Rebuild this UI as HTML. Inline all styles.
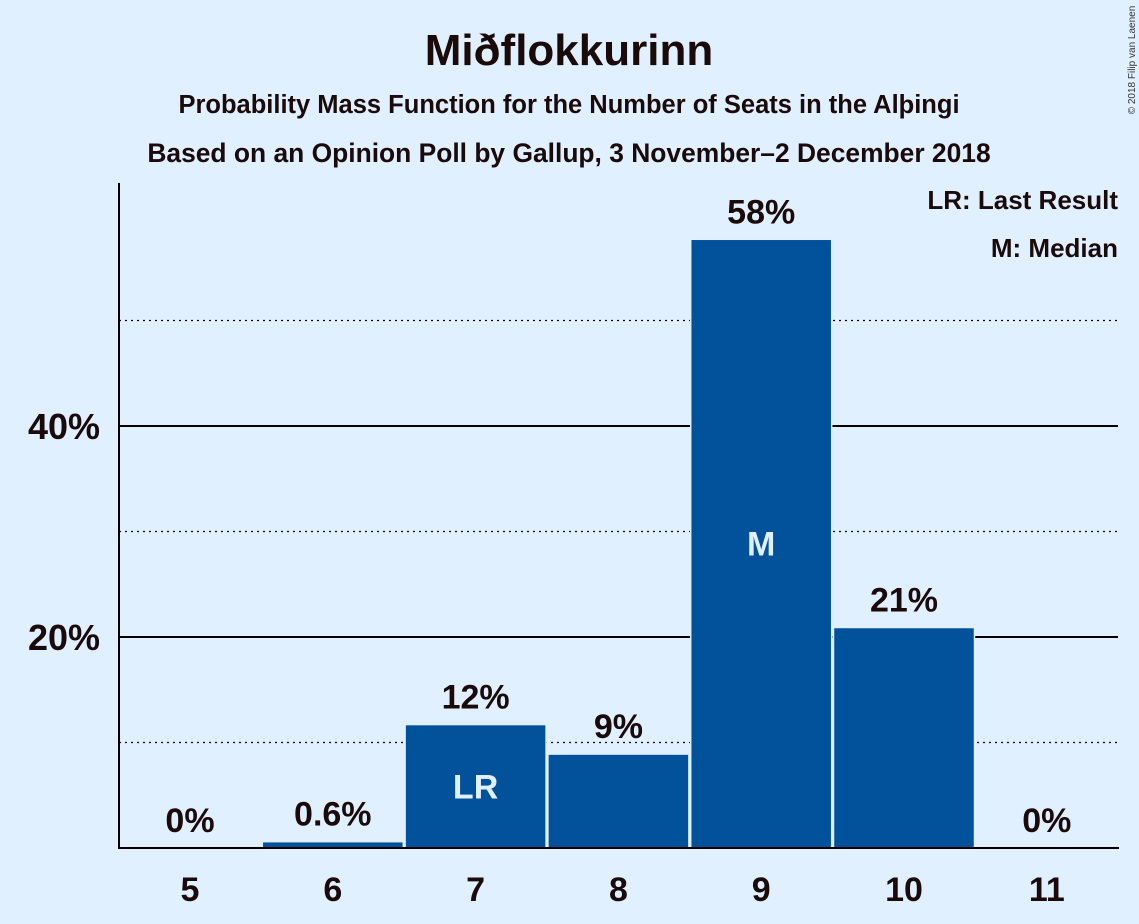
<!DOCTYPE html>
<html><head><meta charset="utf-8"><style>
html,body{margin:0;padding:0;background:#e1f0ff;}
svg{display:block;font-family:"Liberation Sans",sans-serif;}
</style></head><body>
<svg id="chart" width="1139" height="924" viewBox="0 0 1139 924">
<rect width="1139" height="924" fill="#e1f0ff"/>
<text x="569" y="65" text-anchor="middle" font-size="44" font-weight="bold" fill="#1a0a0a">Miðflokkurinn</text>
<text x="569" y="113" text-anchor="middle" font-size="25.5" font-weight="bold" fill="#1a0a0a">Probability Mass Function for the Number of Seats in the Alþingi</text>
<text x="569" y="162" text-anchor="middle" font-size="26.4" font-weight="bold" fill="#1a0a0a">Based on an Opinion Poll by Gallup, 3 November–2 December 2018</text>
<text transform="translate(1135,60) rotate(-90)" text-anchor="middle" font-size="10" fill="#333">© 2018 Filip van Laenen</text>
<g id="grid"></g>
<g id="bars"></g>
<g id="labels"></g>
<line x1="119" y1="183" x2="119" y2="849" stroke="#000" stroke-width="2"/>
<line x1="118" y1="848" x2="1119" y2="848" stroke="#000" stroke-width="2"/>
<text x="1118" y="209" text-anchor="end" font-size="26" font-weight="bold" fill="#1a0a0a">LR: Last Result</text>
<text x="1118" y="257" text-anchor="end" font-size="26" font-weight="bold" fill="#1a0a0a">M: Median</text>
</svg>
<script>
const categories = ["5","6","7","8","9","10","11"];
const values = [0, 0.6, 11.7, 8.9, 57.7, 20.9, 0];
const valueLabels = ["0%","0.6%","12%","9%","58%","21%","0%"];
const markers = ["","","LR","","M","",""];
const yTicks = [20, 40];
const yTickLabels = ["20%","40%"];
const dottedTicks = [10, 30, 50];

const NS = "http://www.w3.org/2000/svg";
const y = v => 848 - v * 10.55;
const xc = i => 190 + i * 142.8;
const bw = 141;
function mk(tag, attrs, parent, text){const e=document.createElementNS(NS,tag);for(const k in attrs)e.setAttribute(k,attrs[k]);if(text!==undefined)e.textContent=text;parent.appendChild(e);return e;}
const grid=document.getElementById('grid'), bars=document.getElementById('bars'), labels=document.getElementById('labels');
dottedTicks.forEach(t=>{
  const l=mk('line',{x1:119,x2:1118,y1:y(t),y2:y(t),stroke:'#000','stroke-width':1.2,'stroke-dasharray':'2,4'},grid);
  
  
});
yTicks.forEach((t,i)=>{
  const l=mk('line',{x1:119,x2:1118,y1:y(t),y2:y(t),stroke:'#000','stroke-width':2},grid);
  
  
  const tx=mk('text',{x:100,y:y(t)+13,'text-anchor':'end','font-size':36,'font-weight':'bold',fill:'#1a0a0a'},labels,yTickLabels[i]);
  
  
});
categories.forEach((c,i)=>{
  if(values[i]>0){
    const r=mk('rect',{x:xc(i)-bw/2,y:y(values[i]),width:bw,height:848-y(values[i]),fill:'#02529b',stroke:'#e1f0ff','stroke-width':1.5},bars);
    
    
  }
  const vl=mk('text',{x:xc(i),y:y(values[i])-16,'text-anchor':'middle','font-size':34,'font-weight':'bold',fill:'#1a0a0a'},labels,valueLabels[i]);
  
  
  const xl=mk('text',{x:xc(i),y:901,'text-anchor':'middle','font-size':34,'font-weight':'bold',fill:'#1a0a0a'},labels,c);
  
  
  if(markers[i]){
    const my = (y(values[i])+848)/2+12;
    const m=mk('text',{x:xc(i),y:my,'text-anchor':'middle','font-size':34,'font-weight':'bold',fill:'#e1f0ff'},labels,markers[i]);
    
    
  }
});
</script>
</body></html>
